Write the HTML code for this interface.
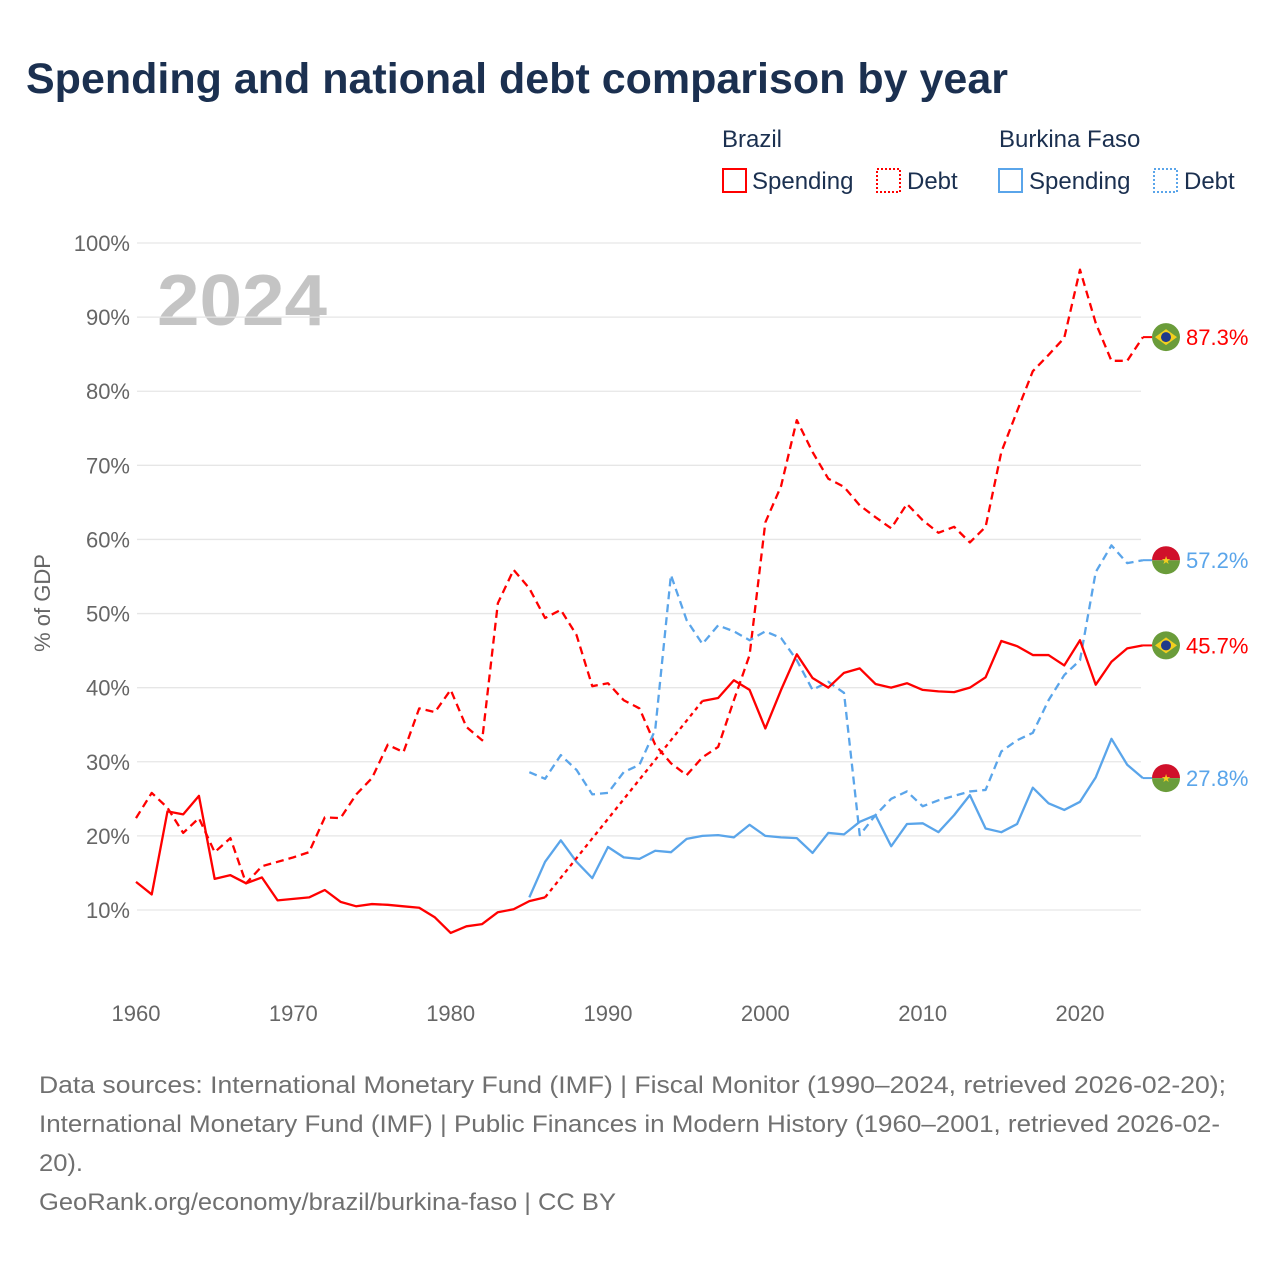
<!DOCTYPE html>
<html><head><meta charset="utf-8"><style>
body{margin:0;background:#fff;width:1280px;height:1280px;overflow:hidden;font-family:"Liberation Sans",sans-serif;}
svg text{font-family:"Liberation Sans",sans-serif;}
</style></head><body>
<svg id="chart" width="1280" height="1280">
<text x="26" y="93" font-size="43" font-weight="bold" fill="#1b3050">Spending and national debt comparison by year</text>
<g>
<text x="722" y="147" font-size="24" fill="#1b3050">Brazil</text>
<text x="999" y="147" font-size="24" fill="#1b3050">Burkina Faso</text>
<g><rect x="723" y="169" width="23" height="23" fill="none" stroke="#ff0000" stroke-width="2"/><text x="752" y="189" font-size="24" fill="#1b3050">Spending</text></g>
<g><rect x="877" y="169" width="23" height="23" fill="none" stroke="#ff0000" stroke-width="2" stroke-dasharray="2,2"/><text x="907" y="189" font-size="24" fill="#1b3050">Debt</text></g>
<g><rect x="999" y="169" width="23" height="23" fill="none" stroke="#5aa5ea" stroke-width="2"/><text x="1029" y="189" font-size="24" fill="#1b3050">Spending</text></g>
<g><rect x="1154" y="169" width="23" height="23" fill="none" stroke="#5aa5ea" stroke-width="2" stroke-dasharray="2,2"/><text x="1184" y="189" font-size="24" fill="#1b3050">Debt</text></g>
</g>
<text x="157" y="325" font-size="72" font-weight="bold" fill="#c4c4c4" textLength="170" lengthAdjust="spacingAndGlyphs">2024</text>
<text transform="translate(50,603) rotate(-90)" text-anchor="middle" font-size="22" fill="#666">% of GDP</text>
<g id="grid"></g><g id="series"></g><g id="ends"></g>
<g font-size="24" fill="#707070">
<text x="39" y="1093" textLength="1187" lengthAdjust="spacingAndGlyphs">Data sources: International Monetary Fund (IMF) | Fiscal Monitor (1990–2024, retrieved 2026-02-20);</text>
<text x="39" y="1132" textLength="1181" lengthAdjust="spacingAndGlyphs">International Monetary Fund (IMF) | Public Finances in Modern History (1960–2001, retrieved 2026-02-</text>
<text x="39" y="1171" textLength="44" lengthAdjust="spacingAndGlyphs">20).</text>
<text x="39" y="1210" textLength="577" lengthAdjust="spacingAndGlyphs">GeoRank.org/economy/brazil/burkina-faso | CC BY</text>
</g>
</svg>
<script>
const yTicks=[10,20,30,40,50,60,70,80,90,100];
const xTicks=[1960,1970,1980,1990,2000,2010,2020];
const brSpendStart=1960;
const brSpend=[13.8,12.1,23.3,22.9,25.4,14.2,14.7,13.6,14.4,11.3,11.5,11.7,12.7,11.1,10.5,10.8,10.7,10.5,10.3,9.0,6.9,7.8,8.1,9.7,10.1,11.2,11.7,null,null,null,null,null,null,null,null,null,38.2,38.6,41.0,39.7,34.5,39.7,44.5,41.3,40.0,42.0,42.6,40.5,40.0,40.6,39.7,39.5,39.4,40.0,41.4,46.3,45.6,44.4,44.4,43.0,46.4,40.4,43.5,45.3,45.7];
const brDebtStart=1960;
const brDebt=[22.4,25.8,23.8,20.4,22.4,17.8,19.7,13.6,15.9,16.5,17.1,17.8,22.5,22.4,25.6,27.8,32.3,31.3,37.2,36.7,39.7,34.7,32.9,51.4,55.9,53.4,49.4,50.5,47.1,40.2,40.6,38.3,37.2,32.3,29.8,28.2,30.6,32.0,38.3,44.4,62.3,67.2,76.1,71.8,68.2,67.1,64.6,63.0,61.5,64.8,62.6,60.9,61.7,59.6,61.7,71.8,77.3,82.7,84.9,87.2,96.4,89.2,84.1,84.1,87.3];
const bfSpendStart=1985;
const bfSpend=[11.7,16.5,19.4,16.5,14.3,18.5,17.1,16.9,18.0,17.8,19.6,20.0,20.1,19.8,21.5,20.0,19.8,19.7,17.7,20.4,20.2,21.9,22.8,18.6,21.6,21.7,20.5,22.8,25.5,21.0,20.5,21.6,26.5,24.4,23.5,24.6,27.9,33.1,29.6,27.8];
const bfDebtStart=1985;
const bfDebt=[28.6,27.7,30.9,28.9,25.6,25.8,28.6,29.6,34.3,55.2,49.1,45.9,48.4,47.6,46.4,47.6,46.7,43.7,39.7,40.8,39.3,20.1,22.8,25.0,26.0,24.0,24.8,25.4,26.0,26.2,31.4,32.9,33.9,38.3,41.7,43.7,55.6,59.2,56.8,57.2];
const NS='http://www.w3.org/2000/svg';
const X=y=>136+(y-1960)*(1080-136)/60;
const Y=v=>243+(100-v)*(910-243)/90;
function mk(tag,attrs,parent){const e=document.createElementNS(NS,tag);for(const k in attrs)e.setAttribute(k,attrs[k]);parent.appendChild(e);return e;}
const grid=document.getElementById('grid');
yTicks.forEach(t=>{
 const l=mk('line',{x1:137,x2:1141,y1:Y(t),y2:Y(t),stroke:'#e6e6e6','stroke-width':1.3},grid);
 
 
 const tx=mk('text',{x:130,y:Y(t)+8,'text-anchor':'end','font-size':22,fill:'#666'},grid);
 tx.textContent=t+'%';
 
 
});
xTicks.forEach(t=>{
 const tx=mk('text',{x:X(t),y:1021,'text-anchor':'middle','font-size':22,fill:'#666'},grid);
 tx.textContent=t;
 
 
});
const sg=document.getElementById('series');
function draw(vals,start,color,dash,name){
 let segs=[],cur=[],gaps=[],last=null;
 vals.forEach((v,i)=>{const yr=start+i;
  if(v==null){if(cur.length)segs.push(cur);cur=[];return;}
  if(last&&last.yr!==yr-1&&!cur.length)gaps.push([last,{yr,v}]);
  cur.push({yr,v});last={yr,v};});
 if(cur.length)segs.push(cur);
 segs.forEach(s=>{const p=mk('polyline',{points:s.map(d=>X(d.yr)+','+Y(d.v)).join(' '),fill:'none',stroke:color,'stroke-width':2.3,'stroke-linejoin':'round','stroke-dasharray':dash||''},sg);
  
  });
 gaps.forEach(g=>{const l=mk('line',{x1:X(g[0].yr),y1:Y(g[0].v),x2:X(g[1].yr),y2:Y(g[1].v),stroke:color,'stroke-width':2.3,'stroke-dasharray':'4,4'},sg);
  
  });
}
draw(brDebt,brDebtStart,'#ff0000','8,5','brazil-debt');
draw(bfDebt,bfDebtStart,'#5aa5ea','8,5','burkina-debt');
draw(bfSpend,bfSpendStart,'#5aa5ea','','burkina-spending');
draw(brSpend,brSpendStart,'#ff0000','','brazil-spending');
const ends=document.getElementById('ends');
function endLabel(vals,start,color,country,name){
 const v=vals[vals.length-1],yr=start+vals.length-1;
 const g=mk('g',{},ends);
 
 
 mk('line',{x1:X(yr),x2:1152,y1:Y(v),y2:Y(v),stroke:color,'stroke-width':2},g);
 const cx=1166,cy=Y(v);
 if(country==='br'){
  mk('circle',{cx,cy,r:14,fill:'#6a9c3a'},g);
  mk('polygon',{points:`${cx-11},${cy} ${cx},${cy-8} ${cx+11},${cy} ${cx},${cy+8}`,fill:'#f2cf1f'},g);
  mk('circle',{cx,cy,r:5,fill:'#1f3a8a'},g);
 }else{
  mk('path',{d:`M${cx-14},${cy} A14,14 0 0 1 ${cx+14},${cy} Z`,fill:'#d0102a'},g);
  mk('path',{d:`M${cx-14},${cy} A14,14 0 0 0 ${cx+14},${cy} Z`,fill:'#6a9c3a'},g);
  const s=mk('text',{x:cx,y:cy+4,'text-anchor':'middle','font-size':11,fill:'#f2cf1f'},g);s.textContent='★';
 }
 const t=mk('text',{x:1186,y:cy+8,'font-size':22,fill:color},g);
 t.textContent=v.toFixed(1)+'%';
}
endLabel(brDebt,brDebtStart,'#ff0000','br','brazil-debt');
endLabel(bfDebt,bfDebtStart,'#5aa5ea','bf','burkina-debt');
endLabel(brSpend,brSpendStart,'#ff0000','br','brazil-spending');
endLabel(bfSpend,bfSpendStart,'#5aa5ea','bf','burkina-spending');
</script>
</body></html>
